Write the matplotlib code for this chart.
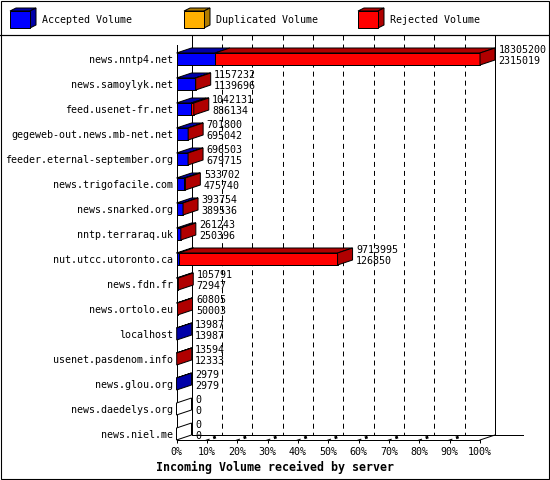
import matplotlib
matplotlib.use("Agg")
import matplotlib.pyplot as plt
from matplotlib.patches import Polygon, Rectangle

# ---------------- data ----------------
servers = [
    "news.nntp4.net", "news.samoylyk.net", "feed.usenet-fr.net",
    "gegeweb-out.news.mb-net.net", "feeder.eternal-september.org",
    "news.trigofacile.com", "news.snarked.org", "nntp.terraraq.uk",
    "nut.utcc.utoronto.ca", "news.fdn.fr", "news.ortolo.eu", "localhost",
    "usenet.pasdenom.info", "news.glou.org", "news.daedelys.org", "news.niel.me",
]
total_volume = [18305200, 1157232, 1042131, 701800, 696503, 533702, 393754, 261243,
                9713995, 105791, 60805, 13987, 13594, 2979, 0, 0]
accepted_volume = [2315019, 1139696, 886134, 695042, 679715, 475740, 389536, 250396,
                   126850, 72947, 50003, 13987, 12333, 2979, 0, 0]
legend_labels = ["Accepted Volume", "Duplicated Volume", "Rejected Volume"]
x_ticks = list(range(0, 101, 10))
x_tick_labels = [f"{t}%" for t in x_ticks]
x_title = "Incoming Volume received by server"

# ---------------- style ----------------
plt.rcParams['font.family'] = ['DejaVu Sans Mono']
plt.rcParams['lines.scale_dashes'] = False
FS = 7.2
LW = 0.72
BLUE, DBLUE = "#0000ff", "#0000a8"
ORANGE, DORANGE = "#ffb000", "#b07c00"
RED, DRED = "#ff0000", "#b00000"

W, H = 550, 480
fig = plt.figure(figsize=(W / 100, H / 100), dpi=100)

# background / frame axes in pixel coordinates
bg = fig.add_axes([0, 0, 1, 1])
bg.set_xlim(0, W)
bg.set_ylim(H, 0)
bg.axis('off')
bg.add_patch(Rectangle((0.5, 0.5), W - 1.5, H - 1.5, fill=False, ec='k', lw=LW * 1.1))
bg.plot([0, W], [35, 35], color='k', lw=LW * 1.2)

# legend cubes
def cube(ax, x, y, w, h, dx, dy, c, dc):
    ax.add_patch(Polygon([(x, y), (x + dx, y - dy), (x + w + dx, y - dy), (x + w, y)],
                         fc=dc, ec='k', lw=LW))
    ax.add_patch(Polygon([(x + w, y), (x + w + dx, y - dy), (x + w + dx, y + h - dy), (x + w, y + h)],
                         fc=dc, ec='k', lw=LW))
    ax.add_patch(Rectangle((x, y), w, h, fc=c, ec='k', lw=LW))

for lx, lab, c, dc in zip([10, 184, 358], legend_labels,
                          [BLUE, ORANGE, RED], [DBLUE, DORANGE, DRED]):
    cube(bg, lx, 11, 20, 17, 6, 3, c, dc)
    bg.text(lx + 32, 20, lab, fontsize=FS, ha='left', va='center')

bg.text(275, 467, x_title, fontsize=8.4, weight='bold', ha='center', va='center')

# ---------------- main axes ----------------
X0, X100 = 176.5, 480.0
Y_TOP, Y_AX = 35.0, 440.0
ROW = 25.0
ax = fig.add_axes([X0 / W, 1 - Y_AX / H, (X100 - X0) / W, (Y_AX - Y_TOP) / H])
ax.patch.set_alpha(0)
ax.set_xlim(0, 100)
y_bottom = len(servers) - 1 + 6 / ROW
y_top = -(59 - Y_TOP) / ROW
ax.set_ylim(y_bottom, y_top)

px_per_pct = (X100 - X0) / 100
DX = 15 / px_per_pct
DY = 5 / ROW
HH = 6 / ROW

for s in ['top', 'right']:
    ax.spines[s].set_visible(False)
ax.spines['left'].set_bounds(y_bottom, -(59 - 45) / ROW)
ax.spines['left'].set_linewidth(LW)
ax.spines['bottom'].set_linewidth(LW)

ax.set_xticks(x_ticks, x_tick_labels)
ax.tick_params(axis='x', length=2.2, width=LW, pad=2.6, labelsize=FS)
ax.set_yticks(range(len(servers)), servers)
ax.tick_params(axis='y', length=0, pad=2.5, labelsize=FS)

# back wall
yb_back = y_bottom - DY
kw = dict(color='k', lw=LW, clip_on=False, zorder=1)
ax.plot([DX, DX], [y_top, yb_back], **kw)
ax.plot([100 + DX, 100 + DX], [y_top, yb_back], **kw)
ax.plot([DX, (523 - X0) / px_per_pct], [yb_back, yb_back], **kw)
ax.plot([100, 100 + DX], [y_bottom, yb_back], **kw)
for t in x_ticks[1:-1]:
    ax.plot([t + DX, t + DX], [y_top, yb_back], color='k', lw=LW, clip_on=False,
            zorder=1, dashes=(3.6, 2.9))
    # floor grid fragments
    ax.plot([t - 0.1 * DX, t + 0.15 * DX], [y_bottom + 0.1 * DY, y_bottom - 0.15 * DY],
            color='k', lw=LW, clip_on=False, zorder=1)
    ax.plot([t + 0.42 * DX, t + 0.6 * DX], [y_bottom - 0.42 * DY, y_bottom - 0.6 * DY],
            color='k', lw=2.0, clip_on=False, zorder=1, solid_capstyle='butt')

# bars
tmax = max(total_volume)
for i, (t, a) in enumerate(zip(total_volume, accepted_volume)):
    r = t - a
    xa = a / tmax * 100
    xt = t / tmax * 100
    yt, yb = i - HH, i + HH
    segs = [(0, xa, BLUE, DBLUE), (xa, xt, RED, DRED)]
    for x0, x1, c, dc in segs:
        if x1 - x0 <= 0:
            continue
        ax.add_patch(Polygon([(x0, yt), (x0 + DX, yt - DY), (x1 + DX, yt - DY), (x1, yt)],
                             fc=dc, ec='k', lw=LW, clip_on=False, zorder=3))
        ax.add_patch(Rectangle((x0, yt), x1 - x0, yb - yt, fc=c, ec='k', lw=LW,
                               clip_on=False, zorder=3))
    side = DRED if r > 0 else (DBLUE if a > 0 else 'white')
    ax.add_patch(Polygon([(xt, yt), (xt + DX, yt - DY), (xt + DX, yb - DY), (xt, yb)],
                         fc=side, ec='k', lw=LW, clip_on=False, zorder=3))
    lx = xt + DX + 3.5 / px_per_pct
    ax.text(lx, i - 0.37, f"{t}", fontsize=FS, ha='left', va='center', zorder=4)
    ax.text(lx, i + 0.07, f"{a}", fontsize=FS, ha='left', va='center', zorder=4)

fig.savefig("out.png", dpi=100)
